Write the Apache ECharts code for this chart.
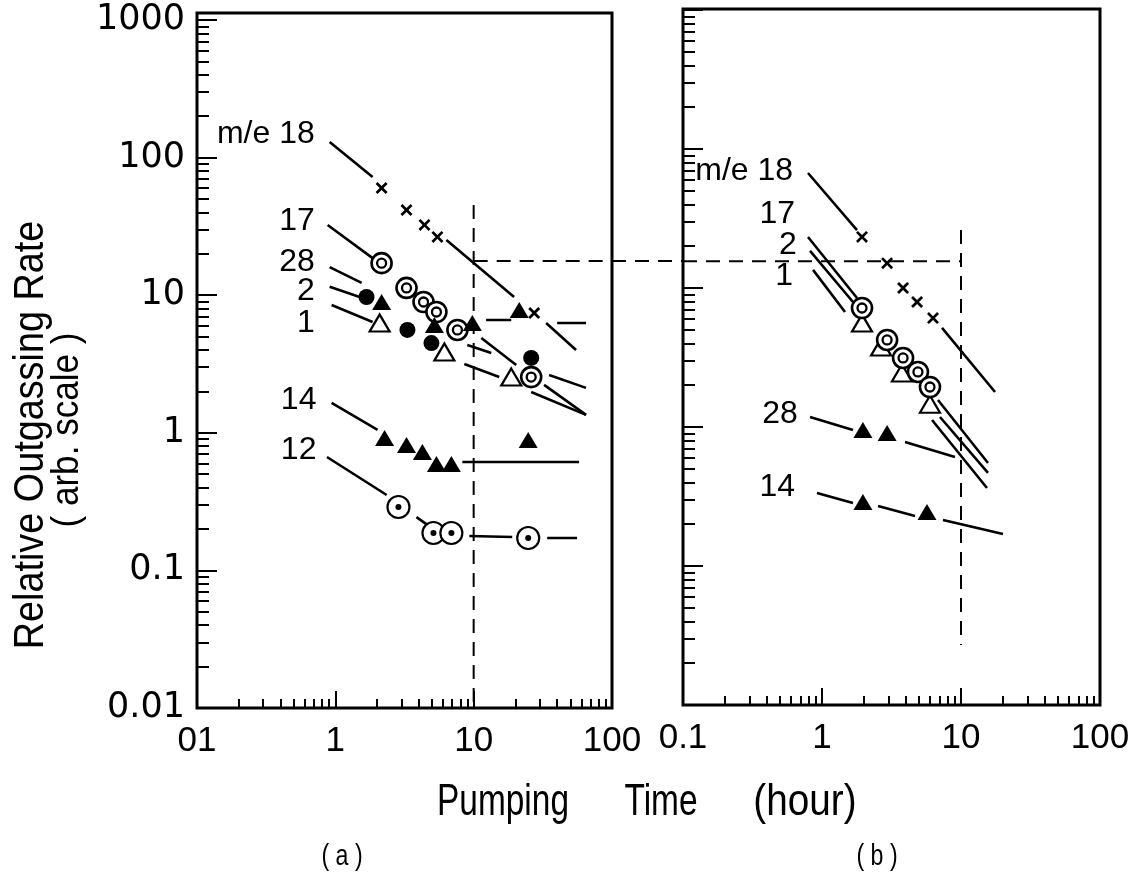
<!DOCTYPE html>
<html><head><meta charset="utf-8">
<script src="https://cdn.jsdelivr.net/npm/echarts@6/dist/echarts.min.js"></script>
<style>html,body{margin:0;padding:0;background:#fff}#c{width:1138px;height:881px}</style>
</head><body><div id="c"></div>
<script>
// ================= DATA =================
// tick labels
const xTickValues = [0.1, 1, 10, 100];
const xTickLabelsA = ['01', '1', '10', '100'];
const xTickLabelsB = ['0.1', '1', '10', '100'];
const yTickValues = [0.01, 0.1, 1, 10, 100, 1000];
const yTickLabels = ['0.01', '0.1', '1', '10', '100', '1000'];

// Panel (a): measured points [pumping time (h), relative rate]
const a18 = [[2.16, 60.1], [3.27, 41.6], [4.41, 32.4], [5.47, 26.5], [27.4, 7.42]];
const a17 = [[2.16, 17.1], [3.27, 11.3], [4.34, 8.92], [5.38, 7.55], [7.63, 5.59], [26.05, 2.54]];
const a28 = [[2.16, 8.92], [5.20, 6.07], [9.78, 6.28], [21.35, 7.80]];
const a2  = [[1.68, 9.70], [3.32, 5.59], [4.95, 4.49], [26.05, 3.50]];
const a1  = [[2.09, 6.28], [6.14, 3.87], [18.69, 2.54]];
const a14 = [[2.27, 0.917], [3.27, 0.815], [4.26, 0.725], [5.38, 0.593], [6.90, 0.593], [24.79, 0.886]];
const a12 = [[2.86, 0.289], [5.12, 0.187], [6.90, 0.187], [24.79, 0.172]];

// Panel (a): drawn fit / leader line pieces [[start],[end]]
const a18Fit = [[[0.91, 129.8], [1.86, 72.3]], [[6.35, 25.2], [19.6, 9.70]], [[33.4, 6.28], [55.0, 4.00]]];
const a17Fit = [[[0.88, 32.4], [1.86, 18.6]], [[11.36, 4.89], [20.3, 3.11]], [[32.3, 2.23], [64.9, 1.35]]];
const a28Fit = [[[0.91, 16.0], [1.55, 12.3]], [[12.3, 6.60], [18.7, 6.60]], [[40.1, 6.28], [64.9, 6.28]]];
const a2Fit  = [[[0.91, 11.5], [1.50, 9.70]], [[9.0, 4.35], [13.4, 3.80]], [[35.1, 2.63], [64.9, 2.12]]];
const a1Fit  = [[[0.94, 8.49], [1.86, 6.39]], [[8.56, 3.16], [15.3, 2.54]], [[26.05, 1.98], [64.9, 1.35]]];
const a14Fit = [[[0.94, 1.65], [2.02, 1.05]], [[8.28, 0.613], [57.8, 0.613]]];
const a12Fit = [[[0.87, 0.667], [2.35, 0.353]], [[3.86, 0.244], [4.63, 0.214]], [[9.30, 0.178], [19.0, 0.175]], [[34.0, 0.172], [55.9, 0.172]]];

// Panel (b): measured points
const b18 = [[1.94, 23.3], [2.94, 15.1], [3.83, 10.0], [4.83, 7.93], [6.29, 6.08]];
const b17 = [[1.94, 7.18], [2.94, 4.23], [3.83, 3.14], [4.90, 2.49], [5.98, 1.94]];
const b1  = [[1.94, 5.60], [2.66, 3.76], [3.76, 2.45], [5.98, 1.46]];
const b28 = [[1.97, 0.952], [2.94, 0.905]];
const b14 = [[1.97, 0.289], [5.69, 0.245]];

// Panel (b): fit / leader line pieces
const b18Fit = [[[0.793, 67.2], [1.786, 26.1]], [[7.30, 5.16], [17.57, 1.786]]];
const b17Fit = [[[0.793, 23.3], [1.786, 8.48]], [[6.83, 1.564], [15.64, 0.551]]];
const b2Fit  = [[[0.820, 18.5], [1.671, 7.93]], [[7.06, 1.18], [15.64, 0.467]]];
const b1Fit  = [[[0.862, 13.5], [1.464, 6.72]], [[6.19, 1.123], [15.38, 0.364]]];
const b28Fit = [[[0.82, 1.18], [1.671, 0.952]], [[3.955, 0.780], [9.05, 0.608]]];
const b14Fit = [[[0.92, 0.335], [1.671, 0.284]], [[2.53, 0.270], [4.67, 0.229]], [[7.42, 0.214], [20.05, 0.170]]];

// Dashed guide lines (10 h marker)
const aGuideV = [[10, 45.2], [10, 0.01]];
const aGuideH = [[10, 17.7], [100, 17.7]];
const bGuideV = [[10, 26.1], [10, 0.027]];
const bGuideH = [[0.1, 15.6], [10, 15.6]];

// Curve labels: [time, rate, text] (right edge of text)
const aLabels = [[0.71, 148, 'm/e 18'], [0.71, 34.6, '17'], [0.71, 17.4, '28'], [0.71, 10.7, '2'], [0.71, 6.28, '1'], [0.73, 1.73, '14'], [0.73, 0.75, '12']];
const bLabels = [[0.62, 69.5, 'm/e 18'], [0.64, 34.1, '17'], [0.66, 20.4, '2'], [0.62, 12.2, '1'], [0.67, 1.24, '28'], [0.64, 0.37, '14']];

// ================= CHART =================
const minorMult = [2, 3, 4, 5, 6, 7, 8, 9];
const xMinor = [0.1, 1, 10].flatMap(d => minorMult.map(m => +(m * d).toPrecision(3)));
const yMinor = [0.01, 0.1, 1, 10, 100].flatMap(d => minorMult.map(m => +(m * d).toPrecision(3)));

const SANS = '"Liberation Sans", Arial, sans-serif';
const BLACK = '#000';

function labelFor(v, vals, labs) {
  const i = vals.findIndex(t => Math.abs(Math.log10(v / t)) < 0.01);
  return i >= 0 ? labs[i] : '';
}
function segs(pieces) {
  const out = [];
  pieces.forEach((p, i) => { if (i) out.push(['-', '-']); out.push(p[0], p[1]); });
  return out;
}

const tickStyle = { color: BLACK, width: 2 };
function xAxes(gi, labels) {
  return [
    { gridIndex: gi, type: 'log', logBase: 10, min: 0.1, max: 100, position: 'bottom',
      axisLine: { show: false }, splitLine: { show: false },
      axisTick: { inside: true, length: 17, lineStyle: tickStyle },
      axisLabel: { formatter: v => labelFor(v, xTickValues, labels), margin: 16, fontSize: 35,
                   fontFamily: SANS, color: BLACK } },
    { gridIndex: gi, type: 'log', logBase: 10, min: 0.1, max: 100, position: 'bottom',
      axisLine: { show: false }, splitLine: { show: false }, axisLabel: { show: false },
      axisTick: { inside: true, length: 9, lineStyle: tickStyle, customValues: xMinor } }
  ];
}
function yAxes(gi, showLabels, yMax) {
  return [
    { gridIndex: gi, type: 'log', logBase: 10, min: 0.01, max: yMax, position: 'left',
      axisLine: { show: false }, splitLine: { show: false },
      axisTick: { inside: true, length: 20, lineStyle: tickStyle, customValues: yTickValues },
      axisLabel: { show: showLabels, customValues: yTickValues,
                   formatter: v => labelFor(v, yTickValues, yTickLabels), margin: 12,
                   fontSize: 35, fontFamily: '"DejaVu Sans", sans-serif', color: BLACK } },
    { gridIndex: gi, type: 'log', logBase: 10, min: 0.01, max: yMax, position: 'left',
      axisLine: { show: false }, splitLine: { show: false }, axisLabel: { show: false },
      axisTick: { inside: true, length: 12, lineStyle: tickStyle, customValues: yMinor } }
  ];
}

const series = [];
function fit(gi, pieces) {
  series.push({ type: 'line', xAxisIndex: gi * 2, yAxisIndex: gi * 2, data: segs(pieces),
    symbol: 'none', connectNulls: false, lineStyle: { color: BLACK, width: 2.6 }, z: 2, silent: true });
}
function guide(gi, pts) {
  series.push({ type: 'line', xAxisIndex: gi * 2, yAxisIndex: gi * 2, data: pts, symbol: 'none',
    lineStyle: { color: BLACK, width: 2, type: [14, 9] }, z: 1, silent: true });
}
function pts(gi, data, symbol, size, fill, border, z) {
  series.push({ type: 'scatter', xAxisIndex: gi * 2, yAxisIndex: gi * 2, data: data, symbol: symbol,
    symbolSize: size, itemStyle: { color: fill, borderColor: BLACK, borderWidth: border, opacity: 1 },
    z: z || 4, silent: true });
}
const CROSS = 'path://M0,1.6 L1.6,0 L5,3.4 L8.4,0 L10,1.6 L6.6,5 L10,8.4 L8.4,10 L5,6.6 L1.6,10 L0,8.4 L3.4,5 Z';
function doubleCircle(gi, data) {
  pts(gi, data, 'circle', 20, '#fff', 2.6, 4);
  pts(gi, data, 'circle', 9, '#fff', 2.3, 5);
}
function dotCircle(gi, data) {
  pts(gi, data, 'circle', 22, '#fff', 2.2, 4);
  pts(gi, data, 'circle', 6, BLACK, 0, 5);
}
function labels(gi, data) {
  series.push({ type: 'scatter', xAxisIndex: gi * 2, yAxisIndex: gi * 2, data: data, symbolSize: 0,
    label: { show: true, position: 'left', distance: 0, formatter: p => p.data[2], color: BLACK,
             textBorderWidth: 0, opacity: 1, fontSize: 32, fontFamily: SANS }, z: 6, silent: true });
}

// panel (a)
guide(0, aGuideV); guide(0, aGuideH);
[a18Fit, a17Fit, a28Fit, a2Fit, a1Fit, a14Fit, a12Fit].forEach(p => fit(0, p));
pts(0, a18, CROSS, 12, BLACK, 0);
doubleCircle(0, a17);
pts(0, a2, 'circle', 16, BLACK, 0);
pts(0, a28, 'triangle', [19, 16], BLACK, 0);
pts(0, a1, 'triangle', [20, 17], '#fff', 2.2);
pts(0, a14, 'triangle', [19, 16], BLACK, 0);
dotCircle(0, a12);
labels(0, aLabels);

// panel (b)
guide(1, bGuideV); guide(1, bGuideH);
[b18Fit, b17Fit, b2Fit, b1Fit, b28Fit, b14Fit].forEach(p => fit(1, p));
pts(1, b18, CROSS, 12, BLACK, 0);
pts(1, b1, 'triangle', [20, 17], '#fff', 2.2);
doubleCircle(1, b17);
pts(1, b28, 'triangle', [19, 16], BLACK, 0);
pts(1, b14, 'triangle', [19, 16], BLACK, 0);
labels(1, bLabels);

const chart = echarts.init(document.getElementById('c'), null, { renderer: 'canvas' });
const gridStyle = { show: true, borderColor: BLACK, borderWidth: 3, backgroundColor: 'transparent', containLabel: false };
const option = {
  backgroundColor: '#fff',
  animation: false,
  grid: [
    Object.assign({ left: 197, top: 13, width: 415, height: 695 }, gridStyle),
    Object.assign({ left: 683, top: 9, width: 417, height: 696 }, gridStyle)
  ],
  xAxis: [...xAxes(0, xTickLabelsA), ...xAxes(1, xTickLabelsB)],
  yAxis: [...yAxes(0, true, 1124), ...yAxes(1, false, 1017)],
  series: series
};
chart.setOption(option);

// texts + dashed connector between panels
const pA = chart.convertToPixel({ gridIndex: 0 }, aGuideH[1]);
const pB = chart.convertToPixel({ gridIndex: 1 }, bGuideH[0]);
function txt(text, x, y, size, sx, rot) {
  return { type: 'text', x: x, y: y, rotation: rot || 0, scaleX: sx, scaleY: 1,
    style: { text: text, font: size + 'px ' + SANS, fill: BLACK, textAlign: 'center', textVerticalAlign: 'middle',
             align: 'center', verticalAlign: 'middle' } };
}
chart.setOption({
  graphic: [
    { type: 'line', shape: { x1: pA[0], y1: pA[1], x2: pB[0], y2: pA[1] },
      style: { stroke: BLACK, lineWidth: 2, lineDash: [14, 9] }, silent: true },
    txt('Relative Outgassing Rate', 31, 435, 42, 0.9, Math.PI / 2),
    txt('( arb. scale )', 67, 430, 39, 0.9, Math.PI / 2),
    txt('Pumping', 503, 803, 44, 0.76),
    txt('Time', 661, 803, 44, 0.76),
    txt('(hour)', 805, 803, 44, 0.88),
    txt('( a )', 342, 857, 29, 0.8),
    txt('( b )', 877, 857, 29, 0.8)
  ]
});
</script></body></html>
